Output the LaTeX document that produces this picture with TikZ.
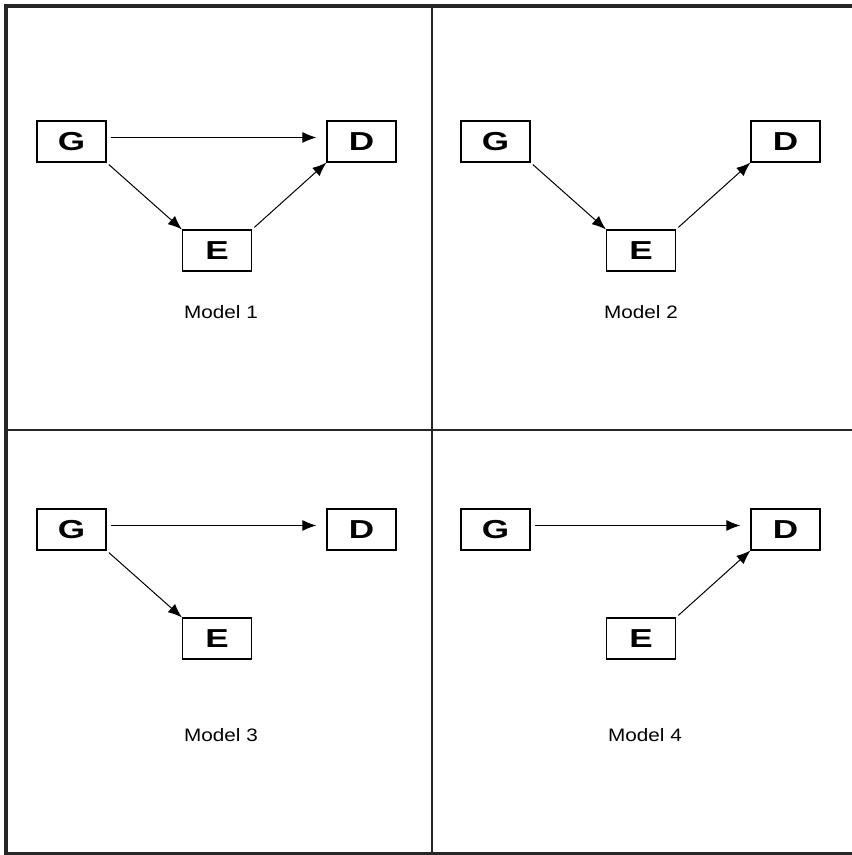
\documentclass[tikz,border=0pt]{standalone}
\usepackage{fontspec}
\setmainfont{Liberation Sans}
\newfontfamily\letterfont[FakeStretch=1.35]{Liberation Sans}
\newfontfamily\labelfont[FakeStretch=1.15]{Liberation Sans}
\usetikzlibrary{arrows.meta}
\tikzset{
  varbox/.style={draw, line width=1.2pt, minimum width=69pt, minimum height=41pt,
    inner sep=0pt, font=\letterfont\bfseries\fontsize{26}{26}\selectfont},
  modellabel/.style={font=\labelfont\fontsize{18}{18}\selectfont},
  arr/.style={line width=1pt, -{Latex[length=14pt,width=11pt]}},
  frame/.style={line width=3.5pt, black!85},
  divider/.style={line width=2pt, black!85}
}
\begin{document}
\begin{tikzpicture}[x=1pt,y=1pt]
\useasboundingbox (0,0) rectangle (852,855);
\draw[frame] (852,849) -- (6,849) -- (6,1.5) -- (852,1.5);
\draw[divider] (432,849) -- (432,1.5);
\draw[divider] (6,424.5) -- (852,424.5);
\foreach \n/\dx/\dy/\lx/\ly in {1/0/0/221/543, 2/424/0/641/543, 3/0/-388/221/120, 4/424/-388/645/120}
{
\node[varbox] (g\n) at (71.5+\dx,713.5+\dy) {G};
\node[varbox] (d\n) at (361.5+\dx,713.5+\dy) {D};
\node[varbox] (e\n) at (217+\dx,604.5+\dy) {E};
\node[modellabel] (m\n) at (\lx,\ly) {Model \n};
}
\foreach \n in {1,3,4}
\draw[arr, shorten <=4pt, shorten >=10pt] ([yshift=4pt]g\n.east) -- ([yshift=4pt]d\n.west);
\foreach \n in {1,2,3}
\draw[arr, shorten <=3pt] (g\n.south east) -- (e\n.north west);
\foreach \n in {1,2,4}
\draw[arr, shorten <=3pt] (e\n.north east) -- (d\n.south west);
\end{tikzpicture}
\end{document}
